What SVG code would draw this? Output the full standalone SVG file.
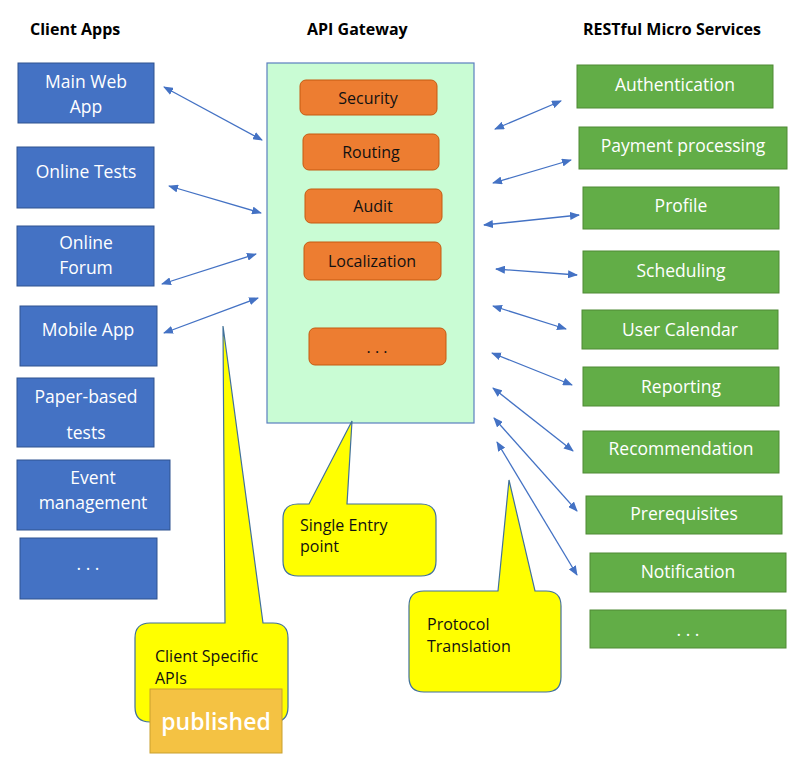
<svg xmlns="http://www.w3.org/2000/svg" width="796" height="760" viewBox="0 0 796 760">
<style>
text{font-family:"Open Sans","Liberation Sans",sans-serif}
.h{font-weight:bold;font-size:16px;fill:#000}
.cb{fill:#4472C4;stroke:#2F528F;stroke-width:1}
.gb{fill:#62AD47;stroke:#4F8A35;stroke-width:1}
.ob{fill:#ED7D31;stroke:#C55A11;stroke-width:1}
.wt{fill:#fff;font-size:17.5px;text-anchor:middle}
.bt{fill:#111;font-size:16px;text-anchor:middle}
.co{fill:#FFFF00;stroke:#41719C;stroke-width:1.2}
.ct{fill:#111;font-size:16px}
.ar{stroke:#4472C4;stroke-width:1.3;fill:none;marker-start:url(#ah);marker-end:url(#ah)}
</style>
<defs>
<marker id="ah" viewBox="0 0 10 8" refX="9" refY="4" markerWidth="10" markerHeight="8" markerUnits="userSpaceOnUse" orient="auto-start-reverse">
<path d="M0,0 L10,4 L0,8 z" fill="#4472C4"/>
</marker>
</defs>
<rect width="796" height="760" fill="#fff"/>
<text class="h" x="30" y="35">Client Apps</text>
<text class="h" x="307" y="35">API Gateway</text>
<text class="h" x="583" y="35">RESTful Micro Services</text>

<g id="client-main-web-app"><rect class="cb" x="18" y="63" width="136" height="60"/><text class="wt" x="86" y="88">Main Web</text><text class="wt" x="86" y="113">App</text></g>
<g id="client-online-tests"><rect class="cb" x="17" y="147" width="137" height="61"/><text class="wt" x="86" y="178">Online Tests</text></g>
<g id="client-online-forum"><rect class="cb" x="17" y="226" width="137" height="60"/><text class="wt" x="86" y="249">Online</text><text class="wt" x="86" y="274">Forum</text></g>
<g id="client-mobile-app"><rect class="cb" x="20" y="306" width="137" height="60"/><text class="wt" x="88" y="336">Mobile App</text></g>
<g id="client-paper-based-tests"><rect class="cb" x="17" y="378" width="137" height="69"/><text class="wt" x="86" y="403">Paper-based</text><text class="wt" x="86" y="439">tests</text></g>
<g id="client-event-management"><rect class="cb" x="17" y="460" width="153" height="70"/><text class="wt" x="93" y="484">Event</text><text class="wt" x="93" y="509">management</text></g>
<g id="client-more"><rect class="cb" x="20" y="538" width="137" height="61"/><text class="wt" x="88" y="570">. . .</text></g>

<g id="api-gateway">
<rect x="267" y="63" width="207" height="360" fill="#C9FCD4" stroke="#5B7FBF" stroke-width="1.2"/>
<g id="gw-security"><rect class="ob" x="300" y="80" width="137" height="35" rx="6"/><text class="bt" x="368" y="104">Security</text></g>
<g id="gw-routing"><rect class="ob" x="303" y="134" width="136" height="36" rx="6"/><text class="bt" x="371" y="158">Routing</text></g>
<g id="gw-audit"><rect class="ob" x="305" y="189" width="137" height="34" rx="6"/><text class="bt" x="373" y="212">Audit</text></g>
<g id="gw-localization"><rect class="ob" x="304" y="242" width="137" height="38" rx="6"/><text class="bt" x="372" y="267">Localization</text></g>
<g id="gw-more"><rect class="ob" x="309" y="328" width="137" height="37" rx="6"/><text class="bt" x="377" y="353">. . .</text></g>
</g>

<g id="svc-authentication"><rect class="gb" x="577" y="65" width="196" height="43"/><text class="wt" x="675" y="91">Authentication</text></g>
<g id="svc-payment-processing"><rect class="gb" x="579" y="127" width="208" height="42"/><text class="wt" x="683" y="152">Payment processing</text></g>
<g id="svc-profile"><rect class="gb" x="583" y="187" width="196" height="42"/><text class="wt" x="681" y="212">Profile</text></g>
<g id="svc-scheduling"><rect class="gb" x="583" y="251" width="196" height="42"/><text class="wt" x="681" y="277">Scheduling</text></g>
<g id="svc-user-calendar"><rect class="gb" x="582" y="310" width="196" height="39"/><text class="wt" x="680" y="336">User Calendar</text></g>
<g id="svc-reporting"><rect class="gb" x="583" y="367" width="196" height="39"/><text class="wt" x="681" y="393">Reporting</text></g>
<g id="svc-recommendation"><rect class="gb" x="583" y="431" width="196" height="42"/><text class="wt" x="681" y="455">Recommendation</text></g>
<g id="svc-prerequisites"><rect class="gb" x="586" y="496" width="196" height="38"/><text class="wt" x="684" y="520">Prerequisites</text></g>
<g id="svc-notification"><rect class="gb" x="590" y="553" width="196" height="39"/><text class="wt" x="688" y="578">Notification</text></g>
<g id="svc-more"><rect class="gb" x="590" y="610" width="196" height="38"/><text class="wt" x="688" y="636">. . .</text></g>

<g id="connectors">
<line class="ar" x1="164" y1="87" x2="262" y2="140"/>
<line class="ar" x1="169" y1="186" x2="261" y2="213"/>
<line class="ar" x1="162" y1="284" x2="256" y2="254"/>
<line class="ar" x1="164" y1="333" x2="258" y2="298"/>
<line class="ar" x1="495" y1="129" x2="561" y2="101"/>
<line class="ar" x1="493" y1="183" x2="571" y2="160"/>
<line class="ar" x1="484" y1="225" x2="579" y2="215"/>
<line class="ar" x1="496" y1="269" x2="577" y2="275"/>
<line class="ar" x1="493" y1="306" x2="566" y2="329"/>
<line class="ar" x1="492" y1="353" x2="572" y2="385"/>
<line class="ar" x1="493" y1="388" x2="573" y2="451"/>
<line class="ar" x1="494" y1="418" x2="577" y2="511"/>
<line class="ar" x1="497" y1="442" x2="577" y2="575"/>
</g>

<g id="callout-client-specific">
<path class="co" d="M150,623 L225,623 L223,326 L263,623 L273,623 Q288,623 288,638 L288,707 Q288,722 273,722 L150,722 Q135,722 135,707 L135,638 Q135,623 150,623 Z"/>
<text class="ct" x="155" y="662">Client Specific</text>
<text class="ct" x="155" y="684">APIs</text>
</g>
<g id="published">
<rect x="150" y="689" width="132" height="64" fill="#F4C243" stroke="#C9A02E" stroke-width="1"/>
<text x="216" y="730" fill="#fff" font-size="23px" font-weight="600" text-anchor="middle">published</text>
</g>
<g id="callout-single-entry">
<path class="co" d="M298,504 L309,504 L352,421 L347,504 L421,504 Q436,504 436,519 L436,561 Q436,576 421,576 L298,576 Q283,576 283,561 L283,519 Q283,504 298,504 Z"/>
<text class="ct" x="300" y="531">Single Entry</text>
<text class="ct" x="300" y="552">point</text>
</g>
<g id="callout-protocol">
<path class="co" d="M424,591 L498,591 L509,480 L535,591 L546,591 Q561,591 561,606 L561,677 Q561,692 546,692 L424,692 Q409,692 409,677 L409,606 Q409,591 424,591 Z"/>
<text class="ct" x="427" y="630">Protocol</text>
<text class="ct" x="427" y="652">Translation</text>
</g>
</svg>
